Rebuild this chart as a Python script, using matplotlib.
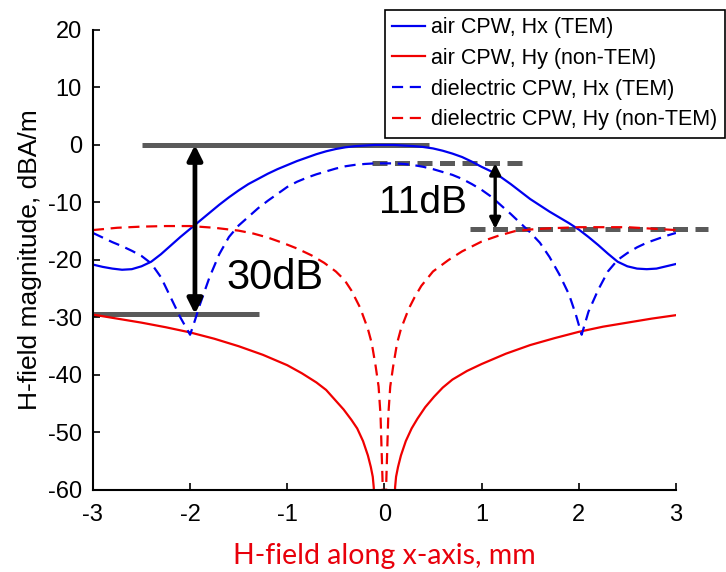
import matplotlib
matplotlib.use('Agg')
import matplotlib.pyplot as plt

plt.rcParams['font.family'] = ['Liberation Sans', 'DejaVu Sans']
plt.rcParams['axes.unicode_minus'] = False

# air CPW, Hx (TEM)
x_air_hx = [-3.0, -2.9, -2.8, -2.7, -2.6, -2.5, -2.4, -2.3, -2.2, -2.1, -2.0, -1.9, -1.8, -1.7,
            -1.6, -1.5, -1.4, -1.3, -1.2, -1.1, -1.0, -0.9, -0.8, -0.7, -0.6, -0.5, -0.4, -0.3,
            -0.2, -0.1, 0.0, 0.1, 0.2, 0.3, 0.4, 0.5, 0.6, 0.7, 0.8, 0.9, 1.0, 1.1, 1.2, 1.3,
            1.4, 1.5, 1.6, 1.7, 1.8, 1.9, 2.0, 2.1, 2.2, 2.3, 2.4, 2.5, 2.6, 2.7, 2.8, 2.9, 3.0]
y_air_hx = [-20.8, -21.2, -21.5, -21.7, -21.6, -21.1, -20.3, -19.0, -17.5, -16.0, -14.6, -13.2,
            -11.8, -10.4, -9.1, -7.9, -6.8, -5.9, -5.0, -4.2, -3.5, -2.8, -2.2, -1.6, -1.1, -0.7,
            -0.4, -0.2, -0.1, 0.0, 0.0, 0.0, -0.1, -0.2, -0.35, -0.6, -1.0, -1.5, -2.1, -2.9,
            -3.8, -4.6, -5.6, -6.8, -8.1, -9.4, -10.5, -11.6, -12.6, -13.6, -14.7, -16.0,
            -17.4, -18.9, -20.3, -21.1, -21.5, -21.6, -21.5, -21.1, -20.7]

# air CPW, Hy (non-TEM)
x_air_hy = [-3.0, -2.75, -2.5, -2.25, -2.0, -1.75, -1.5, -1.25, -1.0, -0.85, -0.7, -0.6, -0.51,
            -0.42, -0.34, -0.28, -0.22, -0.17, -0.14, -0.12, -0.11, -0.105, -0.1, 0.0,
            0.1, 0.105, 0.11, 0.12, 0.14, 0.17, 0.22, 0.28, 0.34, 0.42, 0.51, 0.6, 0.7, 0.85,
            1.0, 1.25, 1.5, 1.75, 2.0, 2.25, 2.5, 2.75, 3.0]
y_air_hy = [-29.5, -30.2, -30.9, -31.7, -32.6, -33.7, -35.0, -36.5, -38.3, -39.7, -41.3, -42.6,
            -44.3, -46.0, -47.8, -49.3, -51.5, -54.0, -56.0, -57.7, -59.5, -62.0, -70.0, -85.0,
            -70.0, -62.0, -59.5, -57.7, -56.0, -54.0, -51.5, -49.3, -47.6, -45.6, -43.8, -42.2,
            -40.8, -39.3, -38.1, -36.3, -34.8, -33.6, -32.5, -31.6, -30.9, -30.2, -29.6]

# dielectric CPW, Hx (TEM)
x_die_hx = [-3.0, -2.9, -2.8, -2.7, -2.6, -2.5, -2.4, -2.3, -2.2, -2.1, -2.0, -1.95, -1.9, -1.8,
            -1.7, -1.6, -1.5, -1.4, -1.3, -1.2, -1.1, -1.0, -0.9, -0.8, -0.7, -0.6, -0.5, -0.4,
            -0.3, -0.2, -0.1, 0.0, 0.1, 0.2, 0.3, 0.4, 0.5, 0.6, 0.7, 0.8, 0.9, 1.0, 1.1, 1.2,
            1.3, 1.4, 1.5, 1.6, 1.7, 1.8, 1.9, 1.97, 2.03, 2.1, 2.2, 2.3, 2.4, 2.5, 2.6, 2.7,
            2.8, 2.9, 3.0]
y_die_hx = [-15.3, -16.1, -16.9, -17.6, -18.4, -19.3, -20.6, -23.0, -26.5, -30.0, -33.0, -30.5,
            -27.8, -23.0, -19.0, -16.0, -14.0, -12.5, -11.0, -9.7, -8.5, -7.3, -6.4, -5.7, -5.1,
            -4.6, -4.1, -3.7, -3.45, -3.3, -3.2, -3.2, -3.2, -3.3, -3.5, -3.8, -4.2, -4.7, -5.2,
            -5.9, -6.8, -7.8, -9.0, -10.5, -12.0, -13.6, -15.2, -17.0, -19.5, -22.5, -26.0,
            -29.5, -33.0, -29.0, -25.2, -22.0, -20.0, -18.8, -17.8, -17.0, -16.4, -15.8, -15.3]

# dielectric CPW, Hy (non-TEM)
x_die_hy = [-3.0, -2.75, -2.5, -2.25, -2.0, -1.75, -1.5, -1.35, -1.2, -1.05, -0.9, -0.75, -0.62,
            -0.5, -0.41, -0.34, -0.25, -0.17, -0.13, -0.09, -0.06, -0.04, -0.03, -0.02, -0.015,
            0.0, 0.015, 0.02, 0.03, 0.04, 0.06, 0.09, 0.13, 0.17, 0.25, 0.31, 0.38, 0.5, 0.66,
            0.8, 1.0, 1.17, 1.34, 1.5, 1.69, 2.0, 2.5, 3.0]
y_die_hy = [-14.8, -14.4, -14.2, -14.1, -14.1, -14.4, -14.9, -15.4, -16.1, -17.0, -18.0, -19.2,
            -20.5, -22.0, -23.5, -25.3, -28.3, -32.0, -34.5, -38.5, -42.0, -47.0, -52.5, -58.0,
            -62.0, -70.0, -62.0, -58.0, -52.5, -47.0, -42.0, -38.5, -34.5, -32.0, -28.5, -26.5,
            -24.5, -22.0, -20.0, -18.5, -16.8, -15.8, -15.0, -14.7, -14.5, -14.3, -14.3, -14.8]

labels = ['air CPW, Hx (TEM)', 'air CPW, Hy (non-TEM)',
          'dielectric CPW, Hx (TEM)', 'dielectric CPW, Hy (non-TEM)']

blue = '#0000f0'
red = '#f00000'
grey = '#5a5a5a'

fig = plt.figure(figsize=(7.26, 5.72), dpi=100)
ax = fig.add_axes([0.128, 0.1434, 0.803, 0.8042])

ax.plot(x_air_hx, y_air_hx, color=blue, lw=1.6, label=labels[0])
ax.plot(x_air_hy, y_air_hy, color=red, lw=1.6, label=labels[1])
ax.plot(x_die_hx, y_die_hx, color=blue, lw=1.6, ls=(0, (5, 3)), label=labels[2])
ax.plot(x_die_hy, y_die_hy, color=red, lw=1.6, ls=(0, (5, 3)), label=labels[3])

# 30 dB marker lines and arrow
ax.plot([-2.5, 0.46], [0, 0], color=grey, lw=3.6, solid_capstyle='butt', zorder=1)
ax.plot([-3.0, -1.29], [-29.4, -29.4], color=grey, lw=3.6, solid_capstyle='butt', zorder=1,
        clip_on=False)
ax.annotate('', xy=(-1.95, 0), xytext=(-1.95, -29.4),
            arrowprops=dict(arrowstyle='<|-|>', color='black', lw=3.4, mutation_scale=22,
                            shrinkA=0, shrinkB=0))
ax.text(-1.63, -23.2, '30dB', fontsize=30, va='center', ha='left')

# 11 dB marker lines and arrow
ax.plot([-0.13, 1.46], [-3.2, -3.2], color=grey, lw=3.6, ls=(0, (3, 1.5)), zorder=1)
ax.plot([0.88, 3.33], [-14.6, -14.6], color=grey, lw=3.6, ls=(0, (3, 1.5)), zorder=1,
        clip_on=False)
ax.annotate('', xy=(1.14, -3.2), xytext=(1.14, -14.6),
            arrowprops=dict(arrowstyle='<|-|>', color='black', lw=2.4, mutation_scale=16,
                            shrinkA=0, shrinkB=0))
ax.text(-0.06, -10.1, '11dB', fontsize=28, va='center', ha='left')

ax.set_xlim(-3, 3)
ax.set_ylim(-60, 20)
ax.set_xticks([-3, -2, -1, 0, 1, 2, 3])
ax.set_yticks([-60, -50, -40, -30, -20, -10, 0, 10, 20])
ax.spines['top'].set_visible(False)
ax.spines['right'].set_visible(False)
ax.spines['left'].set_linewidth(1.5)
ax.spines['bottom'].set_linewidth(1.5)
ax.tick_params(axis='both', direction='in', length=5, width=1.2, labelsize=17)
ax.tick_params(axis='x', pad=10)
ax.tick_params(axis='y', pad=8)

ax.set_ylabel('H-field magnitude, dBA/m', fontsize=19, labelpad=4)
ax.set_xlabel('H-field along x-axis, mm', fontsize=20.5, color='#e8000b',
              family=['Lato', 'DejaVu Sans'], labelpad=12)

fig.legend(loc='upper left', bbox_to_anchor=(0.530, 0.983), fontsize=15.5,
           frameon=True, fancybox=False, edgecolor='black', framealpha=1,
           handlelength=1.5, handletextpad=0.3, labelspacing=0.45, borderpad=0.35,
           borderaxespad=0)
fig.legends[0].get_frame().set_linewidth(1.2)

plt.savefig('out.png', dpi=100)
